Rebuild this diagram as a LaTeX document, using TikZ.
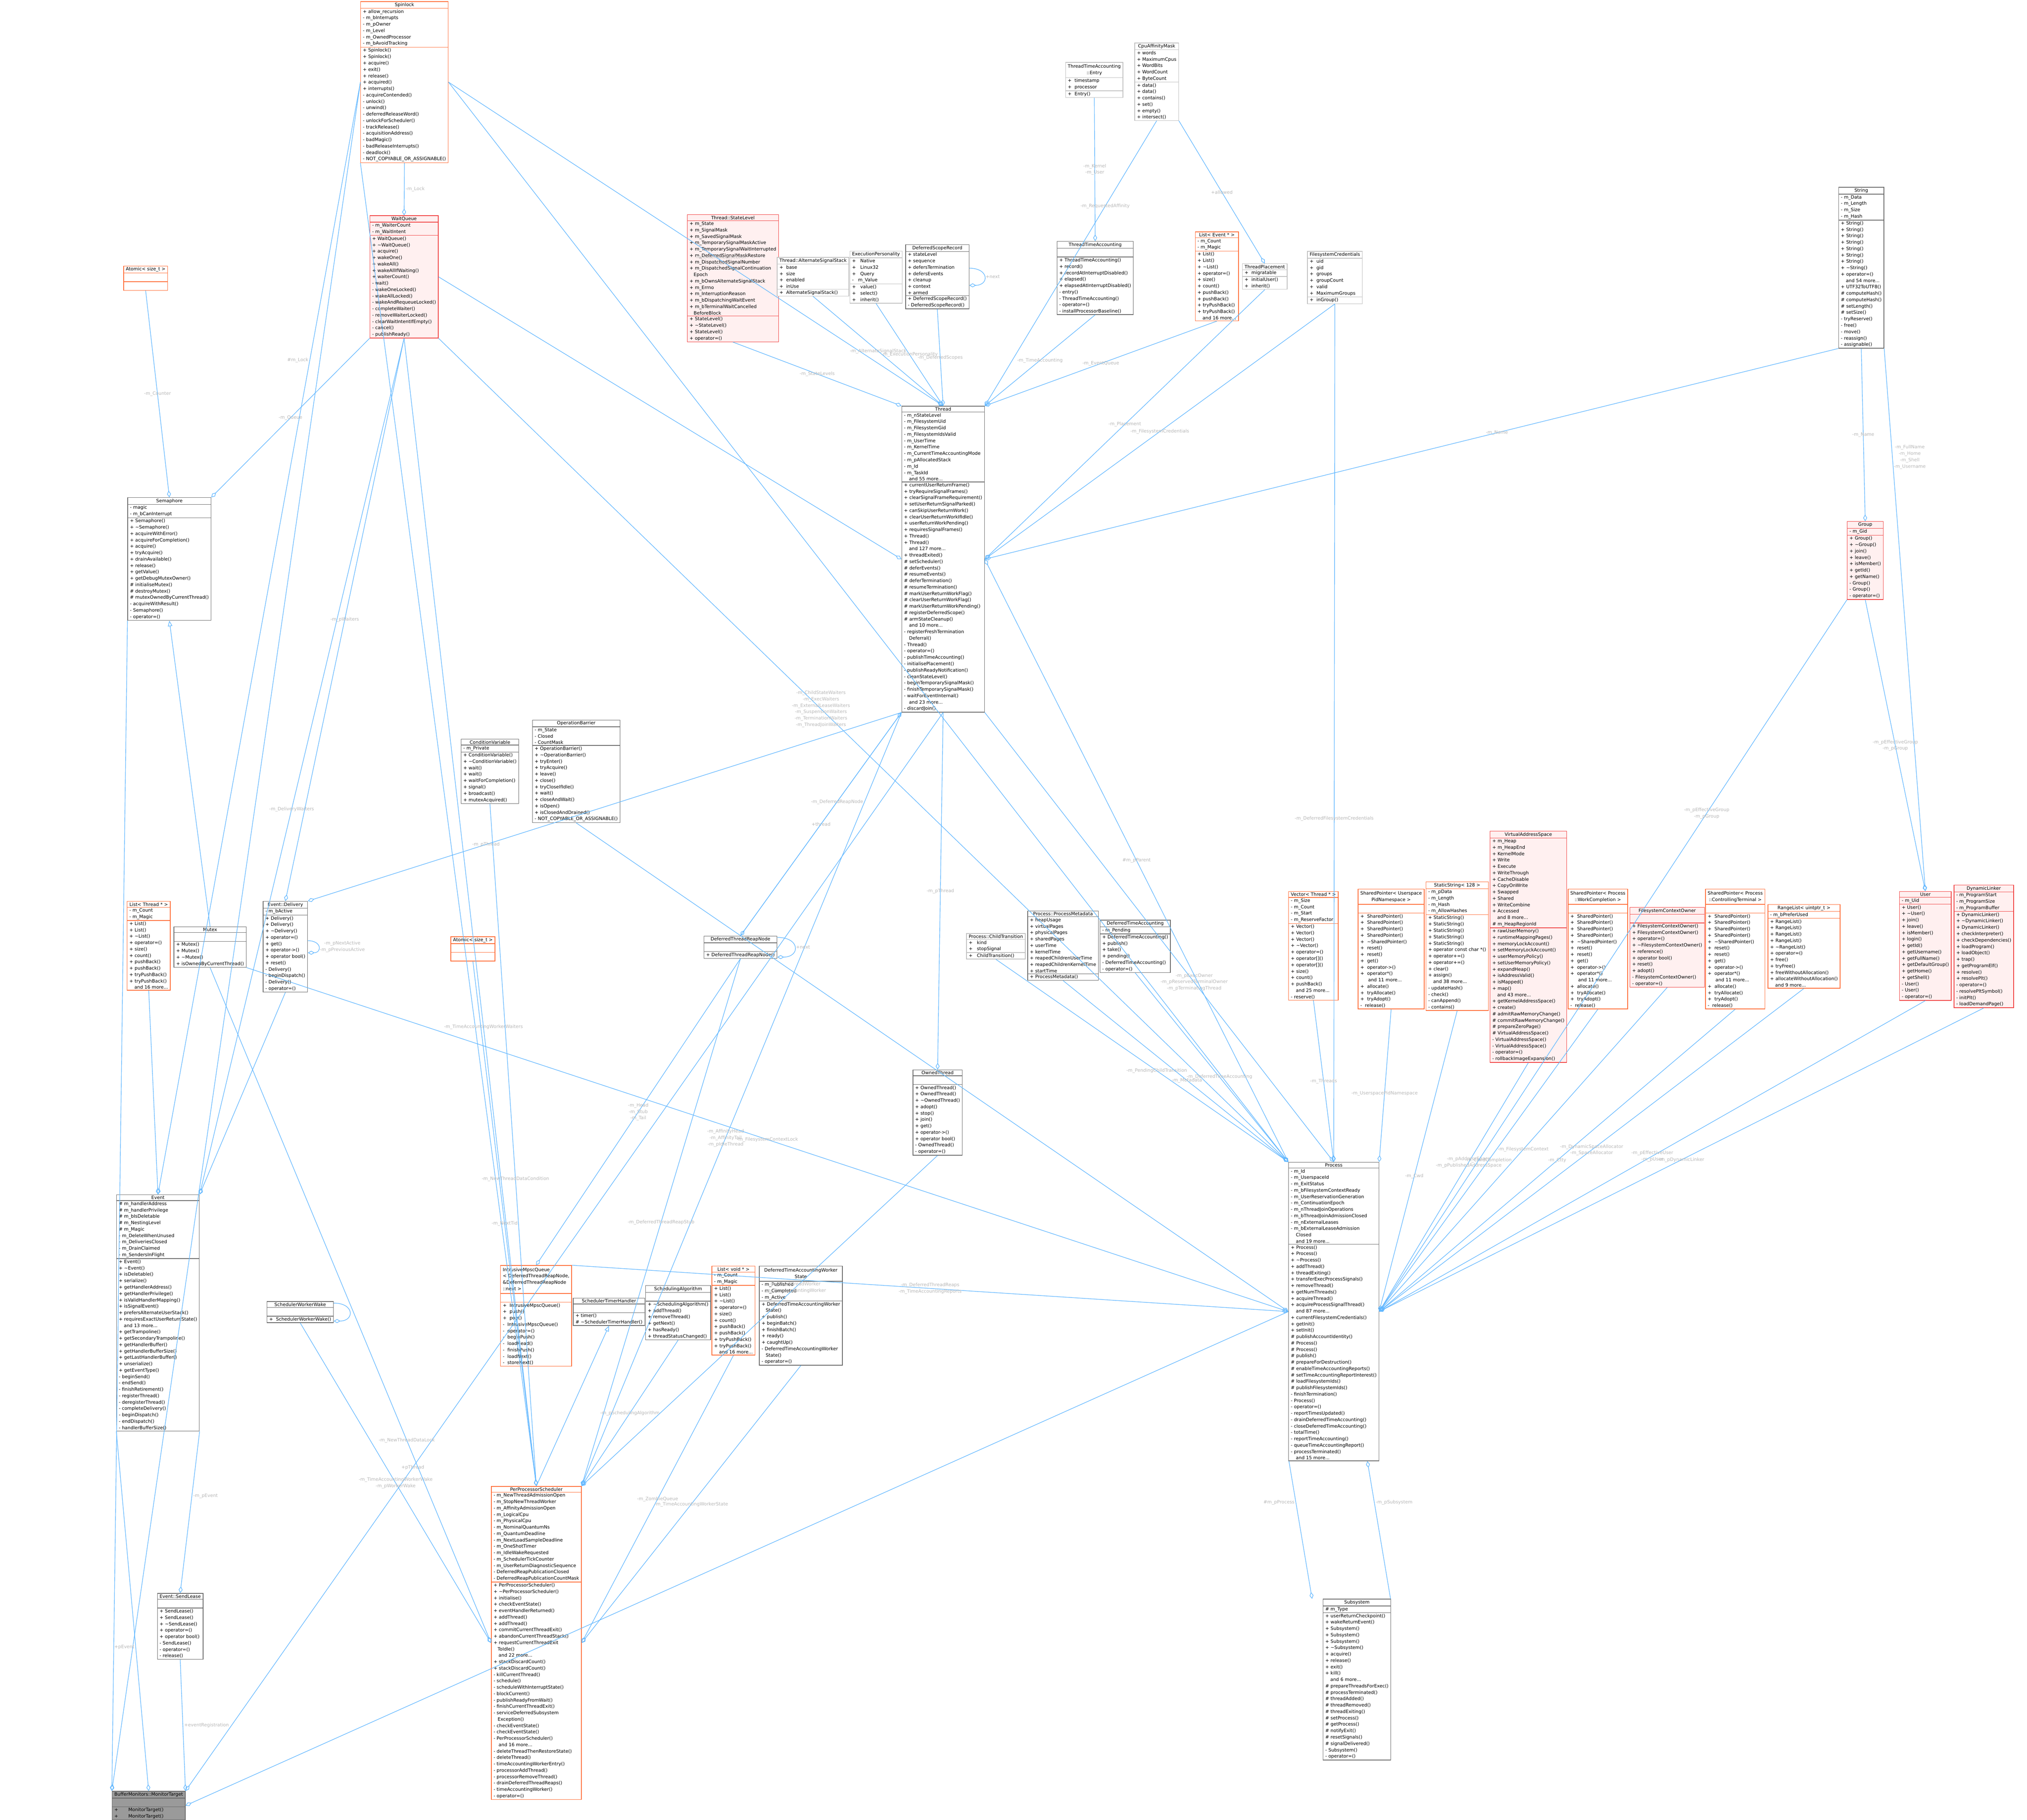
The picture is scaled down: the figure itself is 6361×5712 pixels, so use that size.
\documentclass[tikz,border=0pt]{standalone}
\usepackage{fontspec}
\setmainfont{DejaVu Sans}
\usetikzlibrary{shapes.multipart,arrows.meta}
\definecolor{edge}{HTML}{63B8FF}
\definecolor{lblc}{HTML}{B8B8B8}
\definecolor{redb}{HTML}{F03C3C}
\definecolor{redf}{HTML}{FFF0F0}
\definecolor{orb}{HTML}{FF6A33}
\definecolor{gd}{HTML}{666666}
\definecolor{gl}{HTML}{BFBFBF}
\definecolor{monf}{HTML}{9A9A9A}
\newcommand\fs{\fontsize{4.1}{5.7}\selectfont}
\newcommand\twol[2]{\begin{tabular}{@{}c@{}}#1\\#2\end{tabular}}
\newcommand\mor[1]{\hspace*{1.1em}and #1 more...}
\newcommand\tl{\textasciitilde}
\tikzset{
 cls/.style={rectangle split, rectangle split parts=3, draw, align=left, anchor=north west, font=\fs,
   inner xsep=2pt, inner ysep=0.8pt, rectangle split part align={center,left,left}, line width=0.5pt},
 rc/.style={cls, draw=redb, fill=redf},
 oc/.style={cls, draw=orb, fill=white},
 gc/.style={cls, draw=gd, fill=white},
 lc/.style={cls, draw=gl, fill=white},
 mc/.style={cls, draw=gd, fill=monf},
 agg/.style={draw=edge, line width=0.5pt, -{Diamond[open,length=6pt,width=3.5pt]}},
 inh/.style={draw=edge, line width=0.5pt, -{Triangle[open,length=5pt,width=4pt]}},
 lbl/.style={font=\fs, text=lblc, align=center, inner sep=1pt}
}
\begin{document}
\catcode`\_=12
\begin{tikzpicture}[x=0.01cm,y=-0.01cm]
\fill[white] (0,0) rectangle (6361,5712);
\useasboundingbox (0,0) rectangle (6361,5712);

\node[oc] (spin) at (1131,4) {Spinlock\nodepart{two}+ allow_recursion\\- m_bInterrupts\\- m_pOwner\\- m_Level\\- m_OwnedProcessor\\- m_bAvoidTracking\nodepart{three}+ Spinlock()\\+ Spinlock()\\+ acquire()\\+ exit()\\+ release()\\+ acquired()\\+ interrupts()\\- acquireContended()\\- unlock()\\- unwind()\\- deferredReleaseWord()\\- unlockForScheduler()\\- trackRelease()\\- acquisitionAddress()\\- badMagic()\\- badReleaseInterrupts()\\- deadlock()\\- NOT_COPYABLE_OR_ASSIGNABLE()};

\node[lc] (entry) at (3343,195) {\twol{ThreadTimeAccounting}{::Entry}\nodepart{two}+\ \ timestamp\\+\ \ processor\nodepart{three}+\ \ Entry()};

\node[lc] (cpu) at (3560,134) {CpuAffinityMask\nodepart{two}+ words\\+ MaximumCpus\\+ WordBits\\+ WordCount\\+ ByteCount\nodepart{three}+ data()\\+ data()\\+ contains()\\+ set()\\+ empty()\\+ intersect()};

\node[oc] (at1) at (387,834) {Atomic< size_t >\nodepart{two}\strut\nodepart{three}\strut};

\node[rc] (wq) at (1160,676) {WaitQueue\nodepart{two}- m_WaiterCount\\- m_WaitIntent\nodepart{three}+ WaitQueue()\\+ \tl WaitQueue()\\+ acquire()\\+ wakeOne()\\+ wakeAll()\\+ wakeAllIfWaiting()\\+ waiterCount()\\- wait()\\- wakeOneLocked()\\- wakeAllLocked()\\- wakeAndRequeueLocked()\\- completeWaiter()\\- removeWaiterLocked()\\- clearWaitIntentIfEmpty()\\- cancel()\\- publishReady()};

\node[rc] (sl) at (2156,673) {Thread::StateLevel\nodepart{two}+ m_State\\+ m_SignalMask\\+ m_SavedSignalMask\\+ m_TemporarySignalMaskActive\\+ m_TemporarySignalWaitInterrupted\\+ m_DeferredSignalMaskRestore\\+ m_DispatchedSignalNumber\\+ m_DispatchedSignalContinuation\\\hspace*{0.9em}Epoch\\+ m_bOwnsAlternateSignalStack\\+ m_Errno\\+ m_InterruptionReason\\+ m_bDispatchingWaitEvent\\+ m_bTerminalWaitCancelled\\\hspace*{0.9em}BeforeBlock\nodepart{three}+ StateLevel()\\+ \tl StateLevel()\\+ StateLevel()\\+ operator=()};

\node[lc] (alt) at (2438,807) {Thread::AlternateSignalStack\nodepart{two}+\ \ base\\+\ \ size\\+\ \ enabled\\+\ \ inUse\nodepart{three}+\ \ AlternateSignalStack()};

\node[lc] (ep) at (2666,787) {ExecutionPersonality\nodepart{two}+\ \ \ Native\\+\ \ \ Linux32\\+\ \ \ Query\\-\ \ \ m_Value\nodepart{three}+\ \ \ value()\\+\ \ \ select()\\+\ \ \ inherit()};

\node[gc] (dsr) at (2841,767) {DeferredScopeRecord\nodepart{two}+ stateLevel\\+ sequence\\+ defersTermination\\+ defersEvents\\+ cleanup\\+ context\\+ armed\nodepart{three}+ DeferredScopeRecord()\\- DeferredScopeRecord()};

\node[gc] (tta) at (3316,757) {ThreadTimeAccounting\nodepart{two}\strut\nodepart{three}+ ThreadTimeAccounting()\\+ record()\\+ recordAtInterruptDisabled()\\+ elapsed()\\+ elapsedAtInterruptDisabled()\\- entry()\\- ThreadTimeAccounting()\\- operator=()\\- installProcessorBaseline()};

\node[oc] (lev) at (3750,727) {List< Event * >\nodepart{two}- m_Count\\- m_Magic\nodepart{three}+ List()\\+ List()\\+ \tl List()\\+ operator=()\\+ size()\\+ count()\\+ pushBack()\\+ pushBack()\\+ tryPushBack()\\+ tryPushBack()\\\mor{16}};

\node[lc] (tp) at (3898,827) {ThreadPlacement\nodepart{two}+\ \ migratable\nodepart{three}+\ \ initialUser()\\+\ \ inherit()};

\node[lc] (fc) at (4102,788) {FilesystemCredentials\nodepart{two}+\ \ uid\\+\ \ gid\\+\ \ groups\\+\ \ groupCount\\+\ \ valid\\+\ \ MaximumGroups\nodepart{three}+\ \ inGroup()};

\node[gc] (str) at (5769,587) {String\nodepart{two}- m_Data\\- m_Length\\- m_Size\\- m_Hash\nodepart{three}+ String()\\+ String()\\+ String()\\+ String()\\+ String()\\+ String()\\+ String()\\+ \tl String()\\+ operator=()\\\mor{54}\\+ UTF32ToUTF8()\\\# computeHash()\\\# computeHash()\\\# setLength()\\\# setSize()\\- tryReserve()\\- free()\\- move()\\- reassign()\\- assignable()};

\node[rc] (grp) at (5796,1636) {Group\nodepart{two}- m_Gid\nodepart{three}+ Group()\\+ \tl Group()\\+ join()\\+ leave()\\+ isMember()\\+ getId()\\+ getName()\\- Group()\\- Group()\\- operator=()};

\node[gc] (sem) at (400,1561) {Semaphore\nodepart{two}- magic\\- m_bCanInterrupt\nodepart{three}+ Semaphore()\\+ \tl Semaphore()\\+ acquireWithError()\\+ acquireForCompletion()\\+ acquire()\\+ tryAcquire()\\+ drainAvailable()\\+ release()\\+ getValue()\\+ getDebugMutexOwner()\\\# initialiseMutex()\\\# destroyMutex()\\\# mutexOwnedByCurrentThread()\\- acquireWithResult()\\- Semaphore()\\- operator=()};

\node[gc] (th) at (2829,1274) {Thread\nodepart{two}- m_nStateLevel\\- m_FilesystemUid\\- m_FilesystemGid\\- m_FilesystemIdsValid\\- m_UserTime\\- m_KernelTime\\- m_CurrentTimeAccountingMode\\- m_pAllocatedStack\\- m_Id\\- m_TaskId\\\mor{55}\nodepart{three}+ currentUserReturnFrame()\\+ tryRequireSignalFrames()\\+ clearSignalFrameRequirement()\\+ setUserReturnSignalParked()\\+ canSkipUserReturnWork()\\+ clearUserReturnWorkIfIdle()\\+ userReturnWorkPending()\\+ requiresSignalFrames()\\+ Thread()\\+ Thread()\\\mor{127}\\+ threadExited()\\\# setScheduler()\\\# deferEvents()\\\# resumeEvents()\\\# deferTermination()\\\# resumeTermination()\\\# markUserReturnWorkFlag()\\\# clearUserReturnWorkFlag()\\\# markUserReturnWorkPending()\\\# registerDeferredScope()\\\# armStateCleanup()\\\mor{10}\\- registerFreshTermination\\\hspace*{1.1em}Deferral()\\- Thread()\\- operator=()\\- publishTimeAccounting()\\- initialisePlacement()\\- publishReadyNotification()\\- cleanStateLevel()\\- beginTemporarySignalMask()\\- finishTemporarySignalMask()\\- waitForEventInternal()\\\mor{23}\\- discardJoin()};

\node[gc] (cv) at (1446,2319) {ConditionVariable\nodepart{two}- m_Private\nodepart{three}+ ConditionVariable()\\+ \tl ConditionVariable()\\+ wait()\\+ wait()\\+ waitForCompletion()\\+ signal()\\+ broadcast()\\+ mutexAcquired()};

\node[gc] (ob) at (1670,2259) {OperationBarrier\nodepart{two}- m_State\\- Closed\\- CountMask\nodepart{three}+ OperationBarrier()\\+ \tl OperationBarrier()\\+ tryEnter()\\+ tryAcquire()\\+ leave()\\+ close()\\+ tryCloseIfIdle()\\+ wait()\\+ closeAndWait()\\+ isOpen()\\+ isClosedAndDrained()\\- NOT_COPYABLE_OR_ASSIGNABLE()};

\node[rc] (vas) at (4675,2608) {VirtualAddressSpace\nodepart{two}+ m_Heap\\+ m_HeapEnd\\+ KernelMode\\+ Write\\+ Execute\\+ WriteThrough\\+ CacheDisable\\+ CopyOnWrite\\+ Swapped\\+ Shared\\+ WriteCombine\\+ Accessed\\\mor{8}\\\# m_HeapRegionId\nodepart{three}+ rawUserMemory()\\+ runtimeMappingPages()\\+ memoryLockAccount()\\+ setMemoryLockAccount()\\+ userMemoryPolicy()\\+ setUserMemoryPolicy()\\+ expandHeap()\\+ isAddressValid()\\+ isMapped()\\+ map()\\\mor{43}\\+ getKernelAddressSpace()\\+ create()\\\# admitRawMemoryChange()\\\# commitRawMemoryChange()\\\# prepareZeroPage()\\\# VirtualAddressSpace()\\- VirtualAddressSpace()\\- VirtualAddressSpace()\\- operator=()\\- rollbackImageExpansion()};

\node[oc] (vec) at (4043,2797) {Vector< Thread * >\nodepart{two}- m_Size\\- m_Count\\- m_Start\\- m_ReserveFactor\nodepart{three}+ Vector()\\+ Vector()\\+ Vector()\\+ \tl Vector()\\+ operator=()\\+ operator[]()\\+ operator[]()\\+ size()\\+ count()\\+ pushBack()\\\mor{25}\\- reserve()};

\node[oc] (spu) at (4261,2790) {\twol{SharedPointer< Userspace}{PidNamespace >}\nodepart{two}\strut\nodepart{three}+\ \ SharedPointer()\\+\ \ SharedPointer()\\+\ \ SharedPointer()\\+\ \ SharedPointer()\\+\ \ \tl SharedPointer()\\+\ \ reset()\\+\ \ reset()\\+\ \ get()\\+\ \ operator->()\\+\ \ operator*()\\\hspace*{0.6em}\mor{11}\\+\ \ allocate()\\+\ \ tryAllocate()\\+\ \ tryAdopt()\\-\ \ release()};

\node[oc] (ss) at (4474,2767) {StaticString< 128 >\nodepart{two}- m_pData\\- m_Length\\- m_Hash\\- m_AllowHashes\nodepart{three}+ StaticString()\\+ StaticString()\\+ StaticString()\\+ StaticString()\\+ StaticString()\\+ operator const char *()\\+ operator+=()\\+ operator+=()\\+ clear()\\+ assign()\\\mor{38}\\- updateHash()\\- check()\\- canAppend()\\- contains()};

\node[oc] (spw) at (4920,2790) {\twol{SharedPointer< Process}{::WorkCompletion >}\nodepart{two}\strut\nodepart{three}+\ \ SharedPointer()\\+\ \ SharedPointer()\\+\ \ SharedPointer()\\+\ \ SharedPointer()\\+\ \ \tl SharedPointer()\\+\ \ reset()\\+\ \ reset()\\+\ \ get()\\+\ \ operator->()\\+\ \ operator*()\\\hspace*{0.6em}\mor{11}\\+\ \ allocate()\\+\ \ tryAllocate()\\+\ \ tryAdopt()\\-\ \ release()};

\node[rc] (fco) at (5114,2847) {FilesystemContextOwner\nodepart{two}\strut\nodepart{three}+ FilesystemContextOwner()\\+ FilesystemContextOwner()\\+ operator=()\\+ \tl FilesystemContextOwner()\\+ reference()\\+ operator bool()\\+ reset()\\+ adopt()\\- FilesystemContextOwner()\\- operator=()};

\node[oc] (spc) at (5351,2790) {\twol{SharedPointer< Process}{::ControllingTerminal >}\nodepart{two}\strut\nodepart{three}+\ \ SharedPointer()\\+\ \ SharedPointer()\\+\ \ SharedPointer()\\+\ \ SharedPointer()\\+\ \ \tl SharedPointer()\\+\ \ reset()\\+\ \ reset()\\+\ \ get()\\+\ \ operator->()\\+\ \ operator*()\\\hspace*{0.6em}\mor{11}\\+\ \ allocate()\\+\ \ tryAllocate()\\+\ \ tryAdopt()\\-\ \ release()};

\node[oc] (rl) at (5547,2838) {RangeList< uintptr_t >\nodepart{two}- m_bPreferUsed\nodepart{three}+ RangeList()\\+ RangeList()\\+ RangeList()\\+ RangeList()\\+ \tl RangeList()\\+ operator=()\\+ free()\\+ tryFree()\\+ freeWithoutAllocation()\\+ allocateWithoutAllocation()\\\mor{9}};

\node[rc] (usr) at (5960,2797) {User\nodepart{two}- m_Uid\nodepart{three}+ User()\\+ \tl User()\\+ join()\\+ leave()\\+ isMember()\\+ login()\\+ getId()\\+ getUsername()\\+ getFullName()\\+ getDefaultGroup()\\+ getHome()\\+ getShell()\\- User()\\- User()\\- operator=()};

\node[rc] (dl) at (6131,2777) {DynamicLinker\nodepart{two}- m_ProgramStart\\- m_ProgramSize\\- m_ProgramBuffer\nodepart{three}+ DynamicLinker()\\+ \tl DynamicLinker()\\+ DynamicLinker()\\+ checkInterpreter()\\+ checkDependencies()\\+ loadProgram()\\+ loadObject()\\+ trap()\\+ getProgramElf()\\+ resolve()\\+ resolvePlt()\\- operator=()\\- resolvePltSymbol()\\- initPlt()\\- loadDemandPage()};

\node[oc] (at2) at (1414,2939) {Atomic< size_t >\nodepart{two}\strut\nodepart{three}\strut};

\node[gc] (dtrn) at (2208,2937) {DeferredThreadReapNode\nodepart{two}\strut\nodepart{three}+ DeferredThreadReapNode()};

\node[lc] (ct) at (3032,2929) {Process::ChildTransition\nodepart{two}+\ \ \ kind\\+\ \ \ stopSignal\nodepart{three}+\ \ \ ChildTransition()};

\node[gc] (pm) at (3224,2858) {Process::ProcessMetadata\nodepart{two}+ heapUsage\\+ virtualPages\\+ physicalPages\\+ sharedPages\\+ userTime\\+ kernelTime\\+ reapedChildrenUserTime\\+ reapedChildrenKernelTime\\+ startTime\nodepart{three}+ ProcessMetadata()};

\node[gc] (dta) at (3451,2887) {DeferredTimeAccounting\nodepart{two}- m_Pending\nodepart{three}+ DeferredTimeAccounting()\\+ publish()\\+ take()\\+ pending()\\- DeferredTimeAccounting()\\- operator=()};

\node[oc] (lth) at (398,2828) {List< Thread * >\nodepart{two}- m_Count\\- m_Magic\nodepart{three}+ List()\\+ List()\\+ \tl List()\\+ operator=()\\+ size()\\+ count()\\+ pushBack()\\+ pushBack()\\+ tryPushBack()\\+ tryPushBack()\\\mor{16}};

\node[gc] (mtx) at (545,2908) {Mutex\nodepart{two}\strut\nodepart{three}+ Mutex()\\+ Mutex()\\+ \tl Mutex()\\+ isOwnedByCurrentThread()};

\node[gc] (dlv) at (825,2828) {Event::Delivery\nodepart{two}- m_bActive\nodepart{three}+ Delivery()\\+ Delivery()\\+ \tl Delivery()\\+ operator=()\\+ get()\\+ operator->()\\+ operator bool()\\+ reset()\\- Delivery()\\- beginDispatch()\\- Delivery()\\- operator=()};

\node[gc] (own) at (2864,3357) {OwnedThread\nodepart{two}\strut\nodepart{three}+ OwnedThread()\\+ OwnedThread()\\+ \tl OwnedThread()\\+ adopt()\\+ stop()\\+ join()\\+ get()\\+ operator->()\\+ operator bool()\\- OwnedThread()\\- operator=()};

\node[gc] (pr) at (4043,3647) {Process\nodepart{two}- m_Id\\- m_UserspaceId\\- m_ExitStatus\\- m_bFilesystemContextReady\\- m_UserReservationGeneration\\- m_ContinuationEpoch\\- m_nThreadJoinOperations\\- m_bThreadJoinAdmissionClosed\\- m_nExternalLeases\\- m_bExternalLeaseAdmission\\\hspace*{1.1em}Closed\\\mor{19}\nodepart{three}+ Process()\\+ Process()\\+ \tl Process()\\+ addThread()\\+ threadExiting()\\+ transferExecProcessSignals()\\+ removeThread()\\+ getNumThreads()\\+ acquireThread()\\+ acquireProcessSignalThread()\\\mor{87}\\+ currentFilesystemCredentials()\\+ getInit()\\+ setInit()\\\# publishAccountIdentity()\\\# Process()\\\# Process()\\\# publish()\\\# prepareForDestruction()\\\# enableTimeAccountingReports()\\\# setTimeAccountingReportInterest()\\\# loadFilesystemIds()\\\# publishFilesystemIds()\\- finishTermination()\\- Process()\\- operator=()\\- reportTimesUpdated()\\- drainDeferredTimeAccounting()\\- closeDeferredTimeAccounting()\\- totalTime()\\- reportTimeAccounting()\\- queueTimeAccountingReport()\\- processTerminated()\\\mor{15}};

\node[gc] (ev) at (365,3749) {Event\nodepart{two}\# m_handlerAddress\\\# m_handlerPrivilege\\\# m_bIsDeletable\\\# m_NestingLevel\\\# m_Magic\\- m_DeleteWhenUnused\\- m_DeliveriesClosed\\- m_DrainClaimed\\- m_SendersInFlight\nodepart{three}+ Event()\\+ \tl Event()\\+ isDeletable()\\+ serialize()\\+ getHandlerAddress()\\+ getHandlerPrivilege()\\+ isValidHandlerMapping()\\+ isSignalEvent()\\+ prefersAlternateUserStack()\\+ requiresExactUserReturnState()\\\mor{13}\\+ getTrampoline()\\+ getSecondaryTrampoline()\\+ getHandlerBuffer()\\+ getHandlerBufferSize()\\+ getLastHandlerBuffer()\\+ unserialize()\\+ getEventType()\\- beginSend()\\- endSend()\\- finishRetirement()\\- registerThread()\\- deregisterThread()\\- completeDelivery()\\- beginDispatch()\\- endDispatch()\\- handlerBufferSize()};

\node[oc] (imq) at (1570,3971) {\begin{tabular}{@{}l@{}}IntrusiveMpscQueue\\< DeferredThreadReapNode,\\ \&DeferredThreadReapNode\\::next >\end{tabular}\nodepart{two}\strut\nodepart{three}+\ \ IntrusiveMpscQueue()\\+\ \ push()\\+\ \ pop()\\-\ \ IntrusiveMpscQueue()\\-\ \ operator=()\\-\ \ beginPush()\\-\ \ loadHead()\\-\ \ finishPush()\\-\ \ loadNext()\\-\ \ storeNext()};

\node[gc] (sth) at (1798,4073) {SchedulerTimerHandler\nodepart{two}\strut\nodepart{three}+ timer()\\\# \tl SchedulerTimerHandler()};

\node[gc] (sa) at (2025,4034) {SchedulingAlgorithm\nodepart{two}\strut\nodepart{three}+ \tl SchedulingAlgorithm()\\+ addThread()\\+ removeThread()\\+ getNext()\\+ hasReady()\\+ threadStatusChanged()};

\node[oc] (lvo) at (2233,3973) {List< void * >\nodepart{two}- m_Count\\- m_Magic\nodepart{three}+ List()\\+ List()\\+ \tl List()\\+ operator=()\\+ size()\\+ count()\\+ pushBack()\\+ pushBack()\\+ tryPushBack()\\+ tryPushBack()\\\mor{16}};

\node[gc] (dtaw) at (2382,3973) {\twol{DeferredTimeAccountingWorker}{State}\nodepart{two}- m_Published\\- m_Completed\\- m_Active\nodepart{three}+ DeferredTimeAccountingWorker\\\hspace*{0.9em}State()\\+ publish()\\+ beginBatch()\\+ finishBatch()\\+ ready()\\+ caughtUp()\\- DeferredTimeAccountingWorker\\\hspace*{0.9em}State()\\- operator=()};

\node[gc] (sww) at (837,4084) {SchedulerWorkerWake\nodepart{two}\strut\nodepart{three}+\ \ SchedulerWorkerWake()};

\node[oc] (pps) at (1541,4664) {PerProcessorScheduler\nodepart{two}- m_NewThreadAdmissionOpen\\- m_StopNewThreadWorker\\- m_AffinityAdmissionOpen\\- m_LogicalCpu\\- m_PhysicalCpu\\- m_NominalQuantumNs\\- m_QuantumDeadline\\- m_NextLoadSampleDeadline\\- m_OneShotTimer\\- m_IdleWakeRequested\\- m_SchedulerTickCounter\\- m_UserReturnDiagnosticSequence\\- DeferredReapPublicationClosed\\- DeferredReapPublicationCountMask\nodepart{three}+ PerProcessorScheduler()\\+ \tl PerProcessorScheduler()\\+ initialise()\\+ checkEventState()\\+ eventHandlerReturned()\\+ addThread()\\+ addThread()\\+ commitCurrentThreadExit()\\+ abandonCurrentThreadStack()\\+ requestCurrentThreadExit\\\hspace*{0.9em}ToIdle()\\\mor{22}\\+ stackDiscardCount()\\+ stackDiscardCount()\\- killCurrentThread()\\- schedule()\\- scheduleWithInterruptState()\\- blockCurrent()\\- publishReadyFromWait()\\- finishCurrentThreadExit()\\- serviceDeferredSubsystem\\\hspace*{0.9em}Exception()\\- checkEventState()\\- checkEventState()\\- PerProcessorScheduler()\\\mor{16}\\- deleteThreadThenRestoreState()\\- deleteThread()\\- timeAccountingWorkerEntry()\\- processorAddThread()\\- processorRemoveThread()\\- drainDeferredThreadReaps()\\- timeAccountingWorker()\\- operator=()};

\node[gc] (sl2) at (493,5000) {Event::SendLease\nodepart{two}\strut\nodepart{three}+ SendLease()\\+ SendLease()\\+ \tl SendLease()\\+ operator=()\\+ operator bool()\\- SendLease()\\- operator=()\\- release()};

\node[gc] (sub) at (4151,5018) {Subsystem\nodepart{two}\# m_Type\nodepart{three}+ userReturnCheckpoint()\\+ wakeReturnEvent()\\+ Subsystem()\\+ Subsystem()\\+ Subsystem()\\+ \tl Subsystem()\\+ acquire()\\+ release()\\+ exit()\\+ kill()\\\mor{6}\\\# prepareThreadsForExec()\\\# processTerminated()\\\# threadAdded()\\\# threadRemoved()\\\# threadExiting()\\\# setProcess()\\\# getProcess()\\\# notifyExit()\\\# resetSignals()\\\# signalDelivered()\\- Subsystem()\\- operator=()};

\node[mc] (mt) at (351,5621) {BufferMonitors::MonitorTarget\nodepart{two}\strut\nodepart{three}+\hspace{2.2em}MonitorTarget()\\+\hspace{2.2em}MonitorTarget()};

% ================= connectors =================
\draw[agg] (spin.south) -- node[lbl,right]{-m_Lock} (wq.north);
\draw[agg] (spin.east) -- node[lbl,pos=0.55]{-m_ExternalLeaseLock\\-m_Lock} (th.north);
\draw[agg] (spin.west) -- node[lbl,pos=0.25,left]{\#m_Lock} (ev.north);
\draw[agg] (spin.west) -- (mt.north west);
\draw[agg] (spin.east) -- (pr.north west);
\draw[agg] (spin.south west) -- (pps.north);
\draw[agg] (entry.south) -- node[lbl]{-m_Kernel\\-m_User} (tta.north);
\draw[agg] (cpu.south) -- node[lbl,pos=0.3]{-m_RequestedAffinity} (th.north east);
\draw[agg] (cpu.south east) -- node[lbl]{+allowed} (tp.north);
\draw[agg] (wq.south west) -- node[lbl]{-m_Queue} (sem.north east);
\draw[agg] (at1.south) -- node[lbl]{-m_Counter} (sem.north);
\draw[agg] (wq.south) -- node[lbl,pos=0.55]{-m_DeliveryWaiters} (ev.north east);
\draw[agg] (wq.south) -- node[lbl,pos=0.5]{-m_pWaiters} (dlv.north);
\draw[agg] (wq.south east) -- node[lbl,pos=0.45]{-m_ChildStateWaiters\\-m_ExecWaiters\\-m_ExternalLeaseWaiters\\-m_SuspensionWaiters\\-m_TerminationWaiters\\-m_ThreadJoinWaiters} (pr.north west);
\draw[agg] (wq.east) -- (th.west);
\draw[agg] (wq.south) -- node[lbl,pos=0.6]{-m_TimeAccountingWorkerWaiters} (pps.north);
\draw[agg] (sl.south) -- node[lbl]{-m_StateLevels} (th.north west);
\draw[agg] (alt.south) -- node[lbl]{-m_AlternateSignalStack} (th.north);
\draw[agg] (ep.south) -- node[lbl]{-m_ExecutionPersonality} (th.north);
\draw[agg] (dsr.south) -- node[lbl]{-m_DeferredScopes} (th.north);
\draw[agg] (dsr.15) to[out=0,in=0,looseness=3] node[lbl,right]{+next} (dsr.-15);
\draw[agg] (tta.south) -- node[lbl]{-m_TimeAccounting} (th.north east);
\draw[agg] (lev.south) -- node[lbl]{-m_EventQueue} (th.north east);
\draw[agg] (tp.south) -- node[lbl]{-m_Placement} (th.east);
\draw[agg] (fc.south) -- node[lbl]{-m_FilesystemCredentials} (th.east);
\draw[agg] (fc.south) -- node[lbl,pos=0.6]{-m_DeferredFilesystemCredentials} (pr.north);
\draw[agg] (str.south west) -- node[lbl,pos=0.4]{-m_Name} (th.east);
\draw[agg] (str.south) -- node[lbl]{-m_Name} (grp.north);
\draw[agg] (str.south east) -- node[lbl,pos=0.2,right]{-m_FullName\\-m_Home\\-m_Shell\\-m_Username} (usr.north);
\draw[agg] (grp.south) -- node[lbl]{-m_pEffectiveGroup\\-m_pGroup} (usr.north);
\draw[agg] (th.south west) -- node[lbl,pos=0.7]{-m_pThread} (dlv.north east);
\draw[agg] (th.south) -- node[lbl,pos=0.5]{-m_pThread} (own.north);
\draw[agg] (th.south west) -- node[lbl,pos=0.5]{+thread} (dtrn.north);
\draw[agg] (th.south east) -- node[lbl,pos=0.6]{-m_pExecOwner\\-m_pReservedTerminalOwner\\-m_pTerminatingThread} (pr.north);
\draw[agg] (pr.north west) -- node[lbl,pos=0.5]{\#m_pParent} (th.east);
\draw[agg] (th.south west) -- node[lbl,pos=0.55]{-m_AffinityHead\\-m_AffinityTail\\-m_pIdleThread} (pps.north east);
\draw[agg] (th.south) -- node[lbl,pos=0.7]{+pThread} (mt.north east);
\draw[agg] (cv.south) -- node[lbl,pos=0.55]{-m_NewThreadDataCondition} (pps.north);
\draw[agg] (ob.south) -- (pr.west);
\draw[agg] (dtrn.15) to[out=0,in=0,looseness=3] node[lbl,right]{+next} (dtrn.-15);
\draw[agg] (dtrn.south) -- node[lbl,pos=0.5]{-m_Head\\-m_Stub\\-m_Tail} (imq.north);
\draw[agg] (dtrn.north) -- node[lbl,pos=0.6]{-m_DeferredReapNode} (th.south west);
\draw[agg] (dtrn.south) -- node[lbl,pos=0.5]{-m_DeferredThreadReapStub} (pps.north east);
\draw[agg] (at2.south) -- node[lbl,pos=0.5]{-m_NextTid} (pps.north);
\draw[agg] (ct.south) -- node[lbl,pos=0.55]{-m_PendingChildTransition} (pr.north west);
\draw[agg] (pm.south) -- node[lbl,pos=0.55]{-m_Metadata} (pr.north west);
\draw[agg] (dta.south) -- node[lbl,pos=0.55]{-m_DeferredTimeAccounting} (pr.north west);
\draw[agg] (own.south) -- node[lbl,pos=0.4]{-m_NewThreadWorker\\-m_TimeAccountingWorker} (pps.north east);
\draw[agg] (vec.south) -- node[lbl,pos=0.5]{-m_Threads} (pr.north);
\draw[agg] (spu.south) -- node[lbl,pos=0.55]{-m_UserspacePidNamespace} (pr.north east);
\draw[agg] (ss.south) -- node[lbl,pos=0.55]{-m_Cwd} (pr.east);
\draw[agg] (vas.south) -- node[lbl,pos=0.4]{-m_pAddressSpace\\-m_pPublishedAddressSpace} (pr.east);
\draw[agg] (spw.south) -- node[lbl,pos=0.5]{-m_ChildCompletion} (pr.east);
\draw[agg] (fco.south) -- node[lbl,pos=0.5]{-m_FilesystemContext} (pr.east);
\draw[agg] (spc.south) -- node[lbl,pos=0.5]{-m_Ctty} (pr.east);
\draw[agg] (rl.south) -- node[lbl,pos=0.5]{-m_DynamicSpaceAllocator\\-m_SpaceAllocator} (pr.east);
\draw[agg] (usr.south) -- node[lbl,pos=0.5]{-m_pEffectiveUser\\-m_pUser} (pr.east);
\draw[agg] (dl.south) -- node[lbl,pos=0.5]{-m_pDynamicLinker} (pr.east);
\draw[agg] (grp.south west) -- node[lbl,pos=0.3]{-m_pEffectiveGroup\\-m_pGroup} (pr.east);
\draw[agg] ([xshift=-40]pr.south) -- node[lbl,pos=0.3,left]{\#m_pProcess} ([xshift=-40]sub.north);
\draw[agg] ([xshift=30]sub.north) -- node[lbl,pos=0.7,right]{-m_pSubsystem} ([xshift=30]pr.south);
\draw[agg] (imq.north east) -- node[lbl,pos=0.5]{-m_DeferredThreadReaps\\-m_TimeAccountingReports} (pr.west);
\draw[inh] (pps.north) -- (sth.south);
\draw[agg] (sa.south) -- node[lbl,pos=0.5]{-m_pSchedulingAlgorithm} (pps.north east);
\draw[agg] (lvo.south) -- node[lbl,pos=0.5]{-m_ZombieQueue} (pps.east);
\draw[agg] (dtaw.south) -- node[lbl,pos=0.5]{-m_TimeAccountingWorkerState} (pps.east);
\draw[agg] (sww.15) to[out=0,in=0,looseness=3] (sww.-15);
\draw[agg] (sww.south) -- node[lbl,pos=0.5]{-m_TimeAccountingWorkerWake\\-m_pWorkerWake} (pps.west);
\draw[agg] (ev.south east) -- node[lbl,pos=0.4,right]{-m_pEvent} (sl2.north);
\draw[agg] (ev.south west) -- node[lbl,pos=0.6,left]{+pEvent} (mt.north);
\draw[agg] (sl2.south) -- node[lbl,pos=0.5,right]{+eventRegistration} (mt.north east);
\draw[inh] (mtx.north) -- (sem.south);
\draw[agg] (mtx.south) -- node[lbl,pos=0.7]{-m_NewThreadDataLock} (pps.west);
\draw[agg] (mtx.south east) -- node[lbl,pos=0.5]{-m_FilesystemContextLock} (pr.west);
\draw[agg] (lth.south) -- (ev.north);
\draw[agg] (dlv.15) to[out=0,in=0,looseness=3] node[lbl,right]{-m_pNextActive\\-m_pPreviousActive} (dlv.-15);
\draw[agg] (dlv.south) -- (ev.north east);
\draw[agg] (pr.west) -- (mt.east);
\draw[agg] (sem.south west) -- (mt.north west);
\end{tikzpicture}
\end{document}
